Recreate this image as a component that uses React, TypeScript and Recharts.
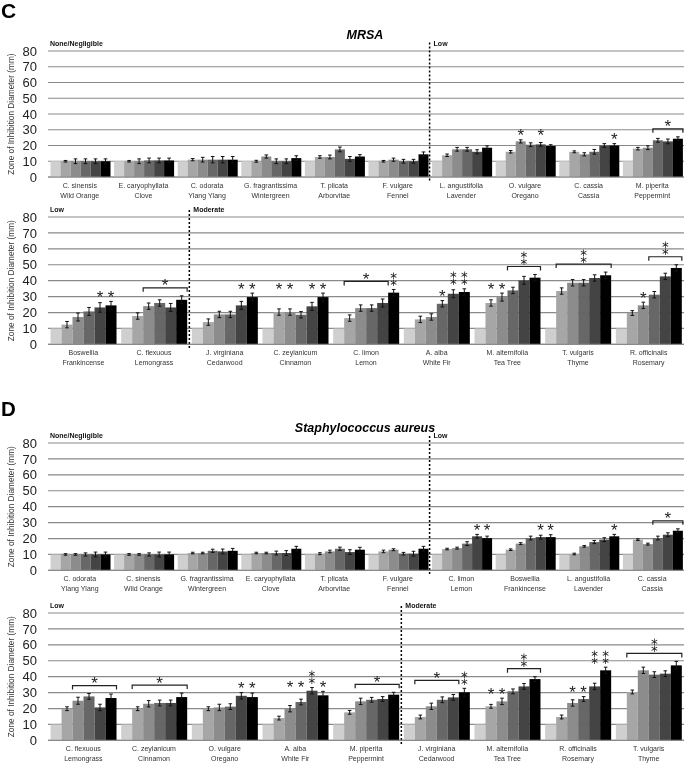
import React from 'react';
import { BarChart, Bar, XAxis, YAxis, CartesianGrid, ErrorBar, ReferenceLine } from 'recharts';

const FONT = '"Liberation Sans", Arial, Helvetica, sans-serif';
const STAR_FONT = '"DejaVu Sans", sans-serif';
const BAR_COLORS = ['#cfcfcf', '#a6a6a6', '#8c8c8c', '#676767', '#444444', '#000000'];
const Y_TICKS = [0, 10, 20, 30, 40, 50, 60, 70, 80];

// C, MRSA, top row
const cTopSpecies = ['C. sinensis', 'E. caryophyllata', 'C. odorata', 'G. fragrantissima', 'T. plicata', 'F. vulgare', 'L. angustifolia', 'O. vulgare', 'C. cassia', 'M. piperita'];
const cTopCommon = ['Wild Orange', 'Clove', 'Ylang Ylang', 'Wintergreen', 'Arborvitae', 'Fennel', 'Lavender', 'Oregano', 'Cassia', 'Peppermint'];
const cTopValues = [
  [10, 10, 10, 10, 10, 10],
  [10, 10, 10, 10.5, 10.5, 10.5],
  [10, 11, 11, 11, 11, 11],
  [10, 10, 13, 10, 10, 12],
  [10, 12.7, 12.7, 17.5, 11.5, 13],
  [10, 10, 11, 10, 10, 14.4],
  [10, 13.8, 17.6, 17.6, 16, 18.6],
  [10, 16, 22.6, 20.5, 20.7, 19.7],
  [10, 16, 14.4, 16, 20, 20],
  [10, 18, 18.6, 23.3, 22.6, 24.3],
];
const cTopErrors = [
  [0, 0.5, 1.5, 1.5, 1.5, 1.5],
  [0, 0.5, 1.5, 1.5, 1.5, 1.5],
  [0, 0.7, 1.5, 2, 2, 2],
  [0, 0.6, 1, 1.5, 1.5, 1.5],
  [0, 0.8, 1.2, 1.5, 1.5, 1.2],
  [0, 0.5, 1, 1.2, 1.2, 1.5],
  [0, 0.8, 1.2, 1.2, 1.3, 1.2],
  [0, 0.8, 1, 1.2, 1.2, 0.8],
  [0, 0.6, 1, 1.5, 1.2, 1.2],
  [0, 0.8, 1.2, 1.2, 1.5, 1.2],
];
const cTopStars = [
  [0, 0, 0, 0, 0, 0], [0, 0, 0, 0, 0, 0], [0, 0, 0, 0, 0, 0], [0, 0, 0, 0, 0, 0], [0, 0, 0, 0, 0, 0],
  [0, 0, 0, 0, 0, 0], [0, 0, 0, 0, 0, 0], [0, 0, 1, 0, 1, 0], [0, 0, 0, 0, 0, 1], [0, 0, 0, 0, 0, 0],
];
// [first bar, last bar, asterisks]
const cTopBrackets = [null, null, null, null, null, null, null, null, null, [3, 5, 1]];

// C, MRSA, bottom row
const cBotSpecies = ['Boswellia', 'C. flexuous', 'J. virginiana', 'C. zeylanicum', 'C. limon', 'A. alba', 'M. alternifolia', 'T. vulgaris', 'R. officinalis'];
const cBotCommon = ['Frankincense', 'Lemongrass', 'Cedarwood', 'Cinnamon', 'Lemon', 'White Fir', 'Tea Tree', 'Thyme', 'Rosemary'];
const cBotValues = [
  [10, 12.4, 17.2, 20.7, 23.2, 24.5],
  [10, 17.8, 24, 26, 23.2, 28],
  [10, 14, 18.8, 18.8, 24.5, 29.7],
  [10, 20.3, 20.3, 18.6, 23.9, 29.7],
  [10, 16.5, 22.8, 22.8, 26, 32.5],
  [10, 15.7, 17.2, 25.5, 31.8, 32.9],
  [10, 26, 29.7, 33.9, 40.2, 41.9],
  [10, 33.5, 38.7, 38.7, 41.7, 43.4],
  [10, 19.7, 24.5, 31.2, 42.7, 48],
];
const cBotErrors = [
  [0, 2, 2.5, 2.5, 3, 2.5],
  [0, 2, 2, 2, 2.5, 2.5],
  [0, 2, 2, 2, 2.5, 2.5],
  [0, 2, 2, 2, 2.5, 2.5],
  [0, 2, 2, 2, 2.5, 2],
  [0, 2, 2, 2, 2.5, 2],
  [0, 2, 2.5, 2, 2.5, 2],
  [0, 2, 2, 2, 2, 2],
  [0, 1.5, 2, 2, 2, 2],
];
const cBotStars = [
  [0, 0, 0, 0, 1, 1], [0, 0, 0, 0, 0, 0], [0, 0, 0, 0, 1, 1], [0, 1, 1, 0, 1, 1], [0, 0, 0, 0, 0, 2],
  [0, 0, 0, 1, 2, 2], [0, 1, 1, 0, 0, 0], [0, 0, 0, 0, 0, 0], [0, 0, 1, 0, 0, 0],
];
const cBotBrackets = [null, [2, 5, 1], null, null, [1, 4, 1], null, [3, 5, 2], [1, 5, 2], [3, 5, 2]];

// D, Staphylococcus aureus, top row
const dTopSpecies = ['C. odorata', 'C. sinensis', 'G. fragrantissima', 'E. caryophyllata', 'T. plicata', 'F. vulgare', 'C. limon', 'Boswellia', 'L. angustifolia', 'C. cassia'];
const dTopCommon = ['Ylang Ylang', 'Wild Orange', 'Wintergreen', 'Clove', 'Arborvitae', 'Fennel', 'Lemon', 'Frankincense', 'Lavender', 'Cassia'];
const dTopValues = [
  [10, 10, 10, 10, 10, 10],
  [10, 10, 10, 10, 10, 10],
  [10, 10.9, 10.9, 12.3, 11.9, 12.3],
  [10, 10.9, 10.9, 10.9, 10.9, 13.6],
  [10, 10.5, 11.9, 13.6, 11.5, 13],
  [10, 11.9, 13, 10.5, 10.5, 13.6],
  [10, 13.4, 14, 16.8, 21.4, 20.3],
  [10, 13, 16.8, 20.3, 20.9, 20.9],
  [10, 10.3, 15.1, 17.8, 19.3, 21.4],
  [10, 19.3, 16.5, 20.3, 22.4, 24.9],
];
const dTopErrors = [
  [0, 0.5, 0.5, 1, 1.5, 1.5],
  [0, 0.5, 0.5, 1, 1.5, 1.5],
  [0, 0.5, 0.5, 1, 1.5, 1.5],
  [0, 0.5, 0.5, 1.2, 1.5, 1.5],
  [0, 0.6, 0.8, 1, 1.5, 1.5],
  [0, 0.8, 0.6, 0.8, 1.5, 1.5],
  [0, 0.5, 0.6, 1.2, 1.2, 1.2],
  [0, 0.5, 0.6, 1.2, 1.2, 1.5],
  [0, 0.5, 0.5, 1, 1.2, 1.2],
  [0, 0.5, 0.6, 1.2, 1.2, 1.2],
];
const dTopStars = [
  [0, 0, 0, 0, 0, 0], [0, 0, 0, 0, 0, 0], [0, 0, 0, 0, 0, 0], [0, 0, 0, 0, 0, 0], [0, 0, 0, 0, 0, 0],
  [0, 0, 0, 0, 0, 0], [0, 0, 0, 0, 1, 1], [0, 0, 0, 0, 1, 1], [0, 0, 0, 0, 0, 1], [0, 0, 0, 0, 0, 0],
];
const dTopBrackets = [null, null, null, null, null, null, null, null, null, [3, 5, 1]];

// D, Staphylococcus aureus, bottom row
const dBotSpecies = ['C. flexuous', 'C. zeylanicum', 'O. vulgare', 'A. alba', 'M. piperita', 'J. virginiana', 'M. alternifolia', 'R. officinalis', 'T. vulgaris'];
const dBotCommon = ['Lemongrass', 'Cinnamon', 'Oregano', 'White Fir', 'Peppermint', 'Cedarwood', 'Tea Tree', 'Rosemary', 'Thyme'];
const dBotValues = [
  [10, 19.9, 24.9, 27.6, 20.7, 26.6],
  [10, 19.9, 23, 23.5, 23.5, 27.2],
  [10, 19.9, 20.7, 21.2, 28, 27.2],
  [10, 14, 19.9, 24.1, 31.2, 28.3],
  [10, 17.6, 24.5, 25.5, 26, 28.7],
  [10, 14.7, 21.4, 25.5, 27, 30.2],
  [10, 21.4, 24.5, 30.8, 33.9, 38.5],
  [10, 14.7, 23.5, 26, 33.9, 44],
  [10, 30.4, 44, 41.3, 41.9, 47.1],
];
const dBotErrors = [
  [0, 1.2, 2.2, 1.8, 2, 2.5],
  [0, 1.2, 2, 1.8, 1.8, 2.5],
  [0, 1.2, 2, 1.8, 2, 2.5],
  [0, 1.2, 2, 1.8, 2, 2.5],
  [0, 1.2, 2, 1.5, 1.5, 1.5],
  [0, 1.2, 2, 1.8, 1.8, 2.5],
  [0, 1.2, 2, 1.5, 1.8, 1.5],
  [0, 1.2, 2, 1.5, 2, 2],
  [0, 1.2, 2, 1.8, 1.8, 2.5],
];
const dBotStars = [
  [0, 0, 0, 0, 0, 0], [0, 0, 0, 0, 0, 0], [0, 0, 0, 0, 1, 1], [0, 0, 1, 1, 2, 1], [0, 0, 0, 0, 0, 0],
  [0, 0, 0, 0, 0, 2], [0, 1, 1, 0, 0, 0], [0, 0, 1, 1, 2, 2], [0, 0, 0, 0, 0, 0],
];
const dBotBrackets = [[2, 5, 1], [1, 5, 1], null, null, [2, 5, 1], [1, 4, 1], [3, 5, 2], null, [1, 5, 2]];

const buildRows = (species, common, values, errors, stars, brackets) =>
  species.map((name, i) => {
    const row: any = { name, common: common[i], vals: values[i], errs: errors[i], stars: stars[i], bracket: brackets[i] };
    values[i].forEach((v, k) => {
      row[`s${k}`] = v;
      row[`e${k}`] = errors[i][k];
    });
    return row;
  });

// one or two asterisks as a single glyph; y is the centre of the lowest one
const Stars = ({ x, y, count }) =>
  count === 1 ? (
    <text x={x} y={y + 9.5} textAnchor="middle" fontSize={17} fill="#222" fontFamily={FONT}>*</text>
  ) : (
    <text x={x} y={y + 4.5} textAnchor="middle" fontSize={13.5} fill="#222" fontFamily={STAR_FONT}>⁑</text>
  );

// draws the bar plus its asterisks / bracket, positioned from the bar's own scale
const makeShape = (k: number) => (props: any) => {
  const { x, y, width, height, payload, fill } = props;
  const v = payload[`s${k}`];
  const base = y + height;
  const perUnit = height / v;
  const toY = (val: number) => base - val * perUnit;
  const tops = payload.vals.map((val: number, j: number) => val + payload.errs[j]);
  const marks: any[] = [];

  const count = payload.stars[k];
  if (count > 0) {
    let rowTop = 0;
    payload.stars.forEach((c: number, j: number) => {
      if (c === count) rowTop = Math.max(rowTop, tops[j]);
    });
    marks.push(<Stars key="st" x={x + width / 2} y={toY(rowTop) - 8} count={count} />);
  }

  const br = payload.bracket;
  if (br && br[0] === k) {
    const by = toY(Math.max(...tops)) - 8;
    const x1 = x;
    const x2 = x + (br[1] - br[0] + 1) * width;
    marks.push(
      <path key="br" d={`M${x1},${by + 4}V${by}H${x2}V${by + 4}`} fill="none" stroke="#222" strokeWidth={1.2} />
    );
    marks.push(<Stars key="bs" x={(x1 + x2) / 2} y={by - 6} count={br[2]} />);
  }

  return (
    <g>
      <rect x={x} y={y} width={width} height={height} fill={fill} />
      {marks}
    </g>
  );
};

const CategoryTick = (props: any) => {
  const { x, y, payload, commons } = props;
  return (
    <g fontFamily={FONT} fill="#333" textAnchor="middle">
      <text x={x} y={y + 11} fontSize={7}>{payload.value}</text>
      <text x={x} y={y + 21} fontSize={7}>{commons[payload.index]}</text>
    </g>
  );
};

const RegionLabel = (props: any) => {
  const vb = props.viewBox || {};
  return (
    <text x={(vb.x ?? 0) + props.dx} y={(vb.y ?? 0) + 4} fontSize={7} fontWeight="bold" fill="#111" fontFamily={FONT}>
      {props.text}
    </text>
  );
};

const Panel = ({ top, plotH, rows, divideAt, leftLabel, rightLabel }) => {
  const commons = rows.map((r) => r.common);
  const first = rows[0].name;
  const divider = rows[divideAt].name;
  return (
    <div style={{ position: 'absolute', left: 0, top: top - 16, willChange: 'transform' }}>
      <BarChart
        width={685}
        height={16 + plotH + 28}
        data={rows}
        margin={{ top: 16, right: 1, bottom: 0, left: 0 }}
        barGap={0}
        barCategoryGap={2.5}
      >
        <CartesianGrid vertical={false} stroke="#8a8a8a" strokeWidth={1.2} />
        <XAxis
          dataKey="name"
          interval={0}
          height={28}
          tickLine={false}
          tickSize={0}
          tickMargin={0}
          axisLine={{ stroke: '#8a8a8a', strokeWidth: 1.2 }}
          tick={<CategoryTick commons={commons} />}
        />
        <YAxis
          domain={[0, 80]}
          ticks={Y_TICKS}
          interval={0}
          width={48}
          tickLine={false}
          axisLine={false}
          tickSize={0}
          tickMargin={11}
          tick={{ fontSize: 13, fill: '#222', fontFamily: FONT }}
          label={{
            value: 'Zone of Inhibition Diameter (mm)',
            angle: -90,
            position: 'insideLeft',
            offset: 11,
            style: { textAnchor: 'middle', fontSize: 8.3, fill: '#333', fontFamily: FONT },
          }}
        />
        {BAR_COLORS.map((c, k) => (
          <Bar key={k} dataKey={`s${k}`} fill={c} isAnimationActive={false} shape={makeShape(k)}>
            <ErrorBar dataKey={`e${k}`} width={1.8} strokeWidth={1} stroke="#111" />
          </Bar>
        ))}
        <ReferenceLine
          segment={[{ x: first, y: -2.2 }, { x: first, y: 85.5 }]}
          position="start"
          stroke="none"
          ifOverflow="visible"
          label={<RegionLabel text={leftLabel} dx={2} />}
        />
        <ReferenceLine
          segment={[{ x: divider, y: -2.2 }, { x: divider, y: 85.5 }]}
          position="start"
          stroke="#000"
          strokeWidth={1.5}
          strokeDasharray="2 2"
          ifOverflow="visible"
          label={<RegionLabel text={rightLabel} dx={4} />}
        />
      </BarChart>
    </div>
  );
};

export default function App() {
  const cTop = buildRows(cTopSpecies, cTopCommon, cTopValues, cTopErrors, cTopStars, cTopBrackets);
  const cBot = buildRows(cBotSpecies, cBotCommon, cBotValues, cBotErrors, cBotStars, cBotBrackets);
  const dTop = buildRows(dTopSpecies, dTopCommon, dTopValues, dTopErrors, dTopStars, dTopBrackets);
  const dBot = buildRows(dBotSpecies, dBotCommon, dBotValues, dBotErrors, dBotStars, dBotBrackets);

  return (
    <div style={{ position: 'absolute', left: 0, top: 0, width: 685, height: 764, background: '#fff', fontFamily: FONT }}>
      <Panel top={50.7} plotH={126} rows={cTop} divideAt={6} leftLabel="None/Negligible" rightLabel="Low" />
      <Panel top={216.7} plotH={127.4} rows={cBot} divideAt={2} leftLabel="Low" rightLabel="Moderate" />
      <Panel top={443.3} plotH={127.4} rows={dTop} divideAt={6} leftLabel="None/Negligible" rightLabel="Low" />
      <Panel top={613.3} plotH={127.4} rows={dBot} divideAt={5} leftLabel="Low" rightLabel="Moderate" />
      <svg width={685} height={764} style={{ position: 'absolute', left: 0, top: 0, pointerEvents: 'none', willChange: 'transform' }}>
        <g fontFamily={FONT} fontWeight="bold" fill="#000">
          <text x={1} y={18} fontSize={21}>C</text>
          <text x={1} y={415.5} fontSize={20.5}>D</text>
          <text x={365} y={39} fontSize={12.5} fontStyle="italic" textAnchor="middle">MRSA</text>
          <text x={365} y={431.5} fontSize={12.5} fontStyle="italic" textAnchor="middle">Staphylococcus aureus</text>
        </g>
      </svg>
    </div>
  );
}
